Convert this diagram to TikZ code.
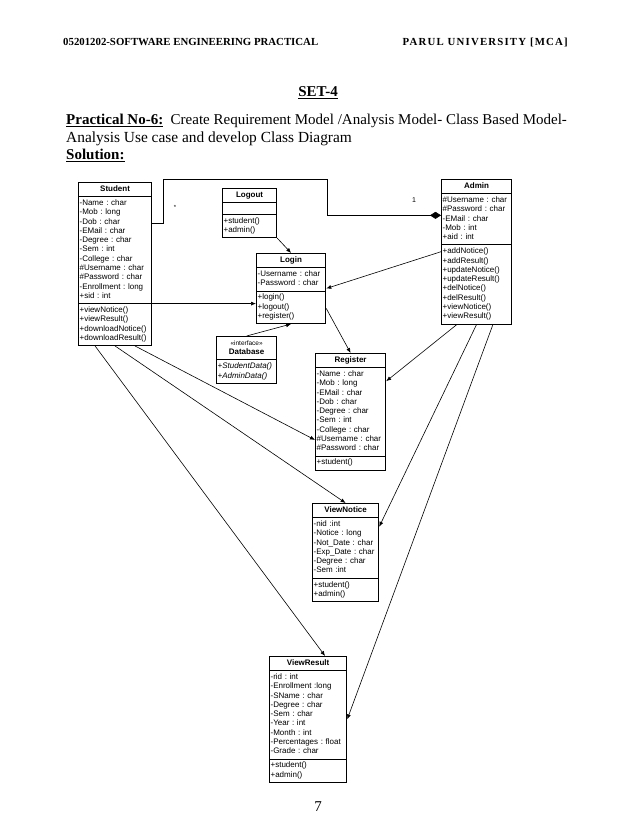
\documentclass[tikz,border=0pt]{standalone}
\usepackage{fontspec}
\setmainfont{Liberation Serif}
\newfontfamily\umlsans{Liberation Sans}
\usepackage{tikz}
\usetikzlibrary{calc,shapes.multipart,arrows.meta}
\newcommand{\umlfont}{\umlsans\fontsize{8}{9.3}\selectfont\frenchspacing}
\newcommand{\clstitle}[1]{\hbox to\hsize{\hss#1\strut\hss}}

\begin{document}
\begin{tikzpicture}[x=1pt,y=-1pt,
    page/.style={inner sep=0pt, anchor=base west},
    cls/.style={draw, line width=0.8pt, rectangle split, rectangle split parts=3,
      anchor=north west, inner xsep=1.2pt, inner ysep=2pt, font=\umlfont},
    assoc/.style={line width=0.6pt, -{Latex[length=5pt,width=4pt]}}]
  \useasboundingbox (0,0) rectangle (638,826);
  \fill[white] (0,0) rectangle (638,826);
  % page text
  \node[page, font=\fontsize{10.8}{12}\selectfont\bfseries] (hleft) at (63,46) {05201202-SOFTWARE ENGINEERING PRACTICAL};
  \node[page, anchor=base east, font=\fontsize{10.8}{12}\selectfont\bfseries\addfontfeature{LetterSpace=11}] (hright) at (568,46) {PARUL UNIVERSITY [MCA]};
  \node[page, anchor=base, font=\fontsize{15}{17}\selectfont\bfseries] (set) at (318,97) {\underline{SET-4}};
  \node[page, font=\fontsize{15}{17}\selectfont] (prac) at (66,125) {\textbf{\underline{Practical No-6:}}\ \ Create Requirement Model /Analysis Model- Class Based Model-};
  \node[page, font=\fontsize{15.4}{17}\selectfont] (prac2) at (66,143) {Analysis Use case and develop Class Diagram};
  \node[page, font=\fontsize{15}{17}\selectfont\bfseries] (sol) at (66,160) {\underline{Solution:}};
  \node[page, anchor=base, font=\fontsize{15}{17}\selectfont] (pno) at (318,811) {7};
  % classes
  \node[cls, text width=71pt] (student) at (78,182) {\clstitle{\textbf{Student}}
    \nodepart{two}\raggedright\strut-Name : char\\-Mob : long\\-Dob : char\\-EMail : char\\-Degree : char\\-Sem : int\\-College : char\\\#Username : char\\\#Password : char\\-Enrollment : long\\+sid : int\strut
    \nodepart{three}\raggedright\strut+viewNotice()\\+viewResult()\\+downloadNotice()\\+downloadResult()\strut};
  \node[cls, text width=52pt] (logout) at (222,188) {\clstitle{\textbf{Logout}}
    \nodepart{two}\rule{0pt}{7pt}
    \nodepart{three}\raggedright\strut+student()\\+admin()\strut};
  \node[cls, text width=67pt] (login) at (256,253) {\clstitle{\textbf{Login}}
    \nodepart{two}\raggedright\strut-Username : char\\-Password : char\strut
    \nodepart{three}\raggedright\strut+login()\\+logout()\\+register()\strut};
  \node[cls, text width=68pt] (admin) at (441,179) {\clstitle{\textbf{Admin}}
    \nodepart{two}\raggedright\strut\#Username : char\\\#Password : char\\-EMail : char\\-Mob : int\\+aid : int\strut
    \nodepart{three}\raggedright\strut+addNotice()\\+addResult()\\+updateNotice()\\+updateResult()\\+delNotice()\\+delResult()\\+viewNotice()\\+viewResult()\strut};
  \node[cls, rectangle split parts=2, text width=58pt] (database) at (216,336) {\clstitle{\fontsize{6.5}{9.3}\selectfont«interface»}\par\clstitle{\textbf{Database}}
    \nodepart{two}\raggedright\itshape\strut+StudentData()\\+AdminData()\strut};
  \node[cls, text width=68pt] (register) at (315,353) {\clstitle{\textbf{Register}}
    \nodepart{two}\raggedright\strut-Name : char\\-Mob : long\\-EMail : char\\-Dob : char\\-Degree : char\\-Sem : int\\-College : char\\\#Username : char\\\#Password : char\strut
    \nodepart{three}\raggedright\strut+student()\strut};
  \node[cls, text width=64pt] (viewnotice) at (312,503) {\clstitle{\textbf{ViewNotice}}
    \nodepart{two}\raggedright\strut-nid :int\\-Notice : long\\-Not\_Date : char\\-Exp\_Date : char\\-Degree : char\\-Sem :int\strut
    \nodepart{three}\raggedright\strut+student()\\+admin()\strut};
  \node[cls, text width=75pt] (viewresult) at (269,656) {\clstitle{\textbf{ViewResult}}
    \nodepart{two}\raggedright\strut-rid : int\\-Enrollment :long\\-SName : char\\-Degree : char\\-Sem : char\\-Year : int\\-Month : int\\-Percentages : float\\-Grade : char\strut
    \nodepart{three}\raggedright\strut+student()\\+admin()\strut};
  % composition Student - Admin
  \draw[line width=0.6pt, -{Diamond[length=11pt,width=7pt]}] ($(student.north east)!0.25!(student.south east)$)
    -- ++(11,0) |- (327,179) |- ($(admin.north west)!0.25!(admin.south west)$);
  \node[font=\umlsans\fontsize{7}{8}\selectfont] (one) at (414,200) {1};
  \node[font=\umlsans\fontsize{6}{7}\selectfont] (many) at (175,207) {*};
  % associations
  \draw[assoc] (logout.south east) -- (login.north);
  \draw[assoc] (student.two split east) -- (student.two split east -| login.west);
  \draw[assoc] (admin.west) -- (login.east);
  \draw[assoc] (database.north) -- (login.south);
  \draw[assoc] ($(login.north east)!0.78!(login.south east)$) -- (register.north);
  \draw[assoc] ($(admin.south west)!0.225!(admin.south east)$) -- ($(register.north east)!0.24!(register.south east)$);
  \draw[assoc] (admin.south) -- ($(viewnotice.north east)!0.24!(viewnotice.south east)$);
  \draw[assoc] ($(admin.south west)!0.73!(admin.south east)$) -- (viewresult.east);
  \draw[assoc] ([xshift=20pt]student.south) -- ($(register.north west)!0.74!(register.south west)$);
  \draw[assoc] (student.south) -- (viewnotice.north);
  \draw[assoc] ([xshift=-20pt]student.south) -- ([xshift=17pt]viewresult.north);
\end{tikzpicture}
\end{document}
